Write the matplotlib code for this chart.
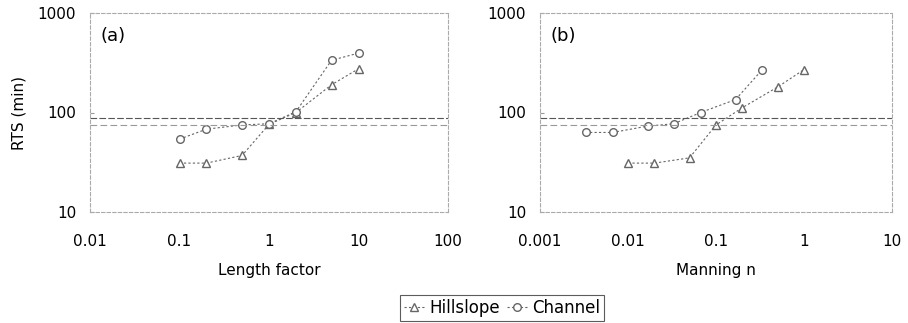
import numpy as np
import matplotlib.pyplot as plt
from matplotlib.ticker import FixedLocator, FixedFormatter, NullLocator

# Panel (a): length factor
len_factor = [0.1, 0.2, 0.5, 1, 2, 5, 10]
rts_hill_a = [31, 31, 37, 76, 100, 190, 275]
rts_chan_a = [54, 68, 75, 77, 102, 335, 395]

# Panel (b): Manning n
n_hill = [0.01, 0.02, 0.05, 0.1, 0.2, 0.5, 1.0]
rts_hill_b = [31, 31, 35, 75, 112, 180, 270]
n_chan = [0.0033, 0.0067, 0.0167, 0.033, 0.067, 0.167, 0.33]
rts_chan_b = [63, 63, 73, 77, 100, 135, 265]

ref_lines = [88, 75]

fig = plt.figure(figsize=(9.08, 3.23), dpi=100)
ax1 = fig.add_axes([90/908, 111/323, 358/908, 199/323])
ax2 = fig.add_axes([540/908, 111/323, 352/908, 199/323])

gray = "#666666"

def style(ax, xlim, xticks, xlabels, tag, xlabel):
    ax.set_xscale("log")
    ax.set_yscale("log")
    ax.set_xlim(xlim)
    ax.set_ylim(10, 1000)
    ax.xaxis.set_major_locator(FixedLocator(xticks))
    ax.xaxis.set_major_formatter(FixedFormatter(xlabels))
    ax.xaxis.set_minor_locator(NullLocator())
    ax.yaxis.set_major_locator(FixedLocator([10, 100, 1000]))
    ax.yaxis.set_major_formatter(FixedFormatter(["10", "100", "1000"]))
    ax.yaxis.set_minor_locator(NullLocator())
    ax.tick_params(axis="x", length=0, pad=16, labelsize=11)
    ax.tick_params(axis="y", length=3, direction="in", pad=10, labelsize=11, color="#999999")
    for s in ax.spines.values():
        s.set_color("#aaaaaa")
        s.set_linewidth(0.8)
        s.set_linestyle((0, (3, 2)))
    ax.axhline(ref_lines[0], color="#555555", lw=0.8, ls=(0, (6, 2)))
    ax.axhline(ref_lines[1], color="#999999", lw=0.8, ls=(0, (6, 3)))
    ax.text(0.03, 0.93, tag, transform=ax.transAxes, fontsize=13, va="top")
    ax.set_xlabel(xlabel, fontsize=11, labelpad=10)

h1, = ax1.plot(len_factor, rts_hill_a, ls=(0, (2, 2)), color=gray, lw=0.8,
               marker="^", mfc="white", mec=gray, ms=5.5, label="Hillslope")
c1, = ax1.plot(len_factor, rts_chan_a, ls=(0, (2, 2)), color=gray, lw=0.8,
               marker="o", mfc="white", mec=gray, ms=5.5, label="Channel")
ax2.plot(n_hill, rts_hill_b, ls=(0, (2, 2)), color=gray, lw=0.8,
         marker="^", mfc="white", mec=gray, ms=5.5)
ax2.plot(n_chan, rts_chan_b, ls=(0, (2, 2)), color=gray, lw=0.8,
         marker="o", mfc="white", mec=gray, ms=5.5)

style(ax1, (0.01, 100), [0.01, 0.1, 1, 10, 100], ["0.01", "0.1", "1", "10", "100"], "(a)", "Length factor")
style(ax2, (0.001, 10), [0.001, 0.01, 0.1, 1, 10], ["0.001", "0.01", "0.1", "1", "10"], "(b)", "Manning n")
ax1.set_ylabel("RTS (min)", fontsize=11, labelpad=8)

leg = fig.legend(handles=[h1, c1], loc="lower center", bbox_to_anchor=(0.553, 0.0),
                 ncol=2, frameon=True, fancybox=False, fontsize=12,
                 handlelength=1.2, handletextpad=0.3, columnspacing=0.4,
                 borderpad=0.25, borderaxespad=0.1)
leg.get_frame().set_edgecolor("#333333")
leg.get_frame().set_linewidth(0.8)

fig.savefig("out.png", dpi=100)
